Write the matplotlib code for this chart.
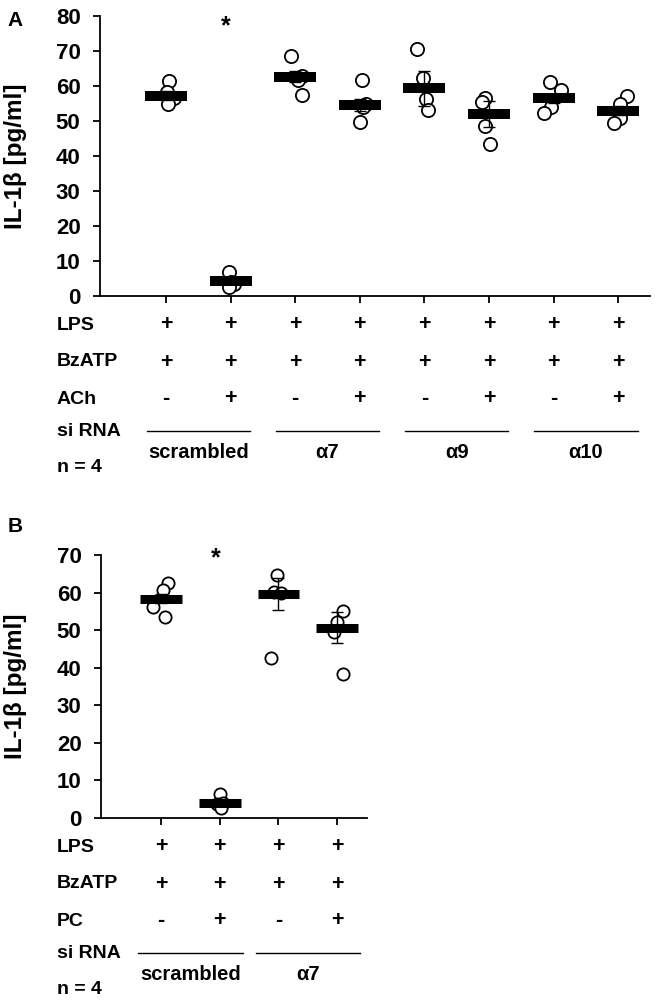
import matplotlib
matplotlib.use("Agg")
import matplotlib.pyplot as plt
from matplotlib.transforms import blended_transform_factory
import numpy as np

plt.rcParams['font.family'] = ['Liberation Sans', 'DejaVu Sans']
plt.rcParams['font.weight'] = 'bold'

W, H = 657, 1000

# ---- panel A data ----
a_means = [57.2, 4.4, 62.7, 54.6, 59.4, 52.0, 56.5, 52.9]
a_sem = [1.3, 1.0, 1.6, 1.7, 5.0, 3.7, 1.3, 1.3]
a_points = [
    [61.4, 58.3, 56.5, 55.0],
    [6.9, 4.0, 3.5, 2.5],
    [68.5, 63.0, 61.8, 57.4],
    [61.8, 55.0, 54.0, 49.8],
    [70.6, 62.4, 56.3, 53.1],
    [56.7, 55.5, 48.7, 43.4],
    [61.2, 58.9, 54.1, 52.4],
    [57.2, 55.0, 51.0, 49.3],
]
a_rows = ["LPS", "BzATP", "ACh"]
a_signs = [
    ["+"] * 8,
    ["+"] * 8,
    ["-", "+", "-", "+", "-", "+", "-", "+"],
]
a_groups = ["scrambled", "α7", "α9", "α10"]
a_star = 77.0

# ---- panel B data ----
b_means = [58.4, 4.1, 59.7, 50.7]
b_sem = [1.3, 0.9, 4.3, 4.0]
b_points = [
    [62.5, 60.7, 56.1, 53.6],
    [6.5, 4.0, 3.6, 2.6],
    [64.7, 60.2, 59.8, 42.5],
    [55.0, 52.3, 49.6, 38.3],
]
b_rows = ["LPS", "BzATP", "PC"]
b_signs = [
    ["+"] * 4,
    ["+"] * 4,
    ["-", "+", "-", "+"],
]
b_groups = ["scrambled", "α7"]
b_star = 69.2

# horizontal scatter of the dots (style only)
a_jitter = [
    [0.05, 0.02, 0.12, 0.03],
    [-0.02, 0.0, 0.05, -0.02],
    [-0.07, 0.11, 0.05, 0.10],
    [0.04, 0.09, 0.05, 0.0],
    [-0.11, -0.02, 0.02, 0.06],
    [-0.07, -0.11, -0.07, 0.02],
    [-0.05, 0.11, -0.04, -0.15],
    [0.13, 0.03, 0.03, -0.06],
]
b_jitter = [
    [0.12, 0.03, -0.14, 0.07],
    [0.0, 0.05, -0.05, 0.02],
    [-0.02, -0.08, 0.04, -0.12],
    [0.10, 0.0, -0.06, 0.10],
]


def panel(fig, box, means, sem, points, jitter, ymax, xlim, star, halfw, barlw, ms):
    left, top, right, bottom = box
    ax = fig.add_axes([left / W, 1 - bottom / H, (right - left) / W, (bottom - top) / H])
    x = np.arange(1, len(means) + 1)
    for xi, pts, jit in zip(x, points, jitter):
        ax.plot(xi + np.array(jit), pts, "o", ms=ms, mfc="white", mec="black",
                mew=1.3, zorder=2, clip_on=False)
    ax.hlines(means, x - halfw, x + halfw, colors="black", linewidth=barlw,
              capstyle="butt", zorder=3)
    ax.errorbar(x, means, yerr=sem, fmt="none", ecolor="black", elinewidth=1,
                capsize=4, capthick=1, zorder=4)
    ax.text(1.93, star, "*", ha="center", va="center", fontsize=18, fontweight="bold")
    ax.set_xlim(*xlim)
    ax.set_ylim(0, ymax)
    ax.set_yticks(np.arange(0, ymax + 1, 10))
    ax.set_xticks(x)
    ax.set_xticklabels([])
    for s in ["top", "right"]:
        ax.spines[s].set_visible(False)
    for s in ["left", "bottom"]:
        ax.spines[s].set_linewidth(1.3)
    ax.tick_params(direction="out", length=5, width=1.3, labelsize=16, pad=9)
    fig.text(16 / W, 1 - (top + bottom) / 2 / H, "IL-1β [pg/ml]", rotation=90,
             ha="center", va="center", fontsize=17.5, fontweight="bold")
    return ax


def table(fig, ax, axis_px, rows, signs, groups, halfline):
    tr = blended_transform_factory(ax.transData, fig.transFigure)
    yf = lambda off: 1 - (axis_px + off) / H
    xl = 57 / W
    offs = [29, 66, 103]
    for name, row, off in zip(rows, signs, offs):
        fig.text(xl, yf(off), name, ha="left", va="center", fontsize=14, fontweight="bold")
        for i, s in enumerate(row):
            ax.text(i + 1, yf(off), s, transform=tr, ha="center", va="center",
                    fontsize=15.5, fontweight="bold")
    fig.text(xl, yf(136), "si RNA", ha="left", va="center", fontsize=14, fontweight="bold")
    fig.text(xl, yf(172), "n = 4", ha="left", va="center", fontsize=14, fontweight="bold")
    for g, name in enumerate(groups):
        c = 2 * g + 1.5
        ax.plot([c - halfline, c + halfline], [yf(135), yf(135)], transform=tr,
                color="black", lw=1, clip_on=False)
        ax.text(c, yf(156), name, transform=tr, ha="center", va="center",
                fontsize=14.5, fontweight="bold")


fig = plt.figure(figsize=(W / 100, H / 100), dpi=100)

axA = panel(fig, (100, 16, 650, 296), a_means, a_sem, a_points, a_jitter, 80,
            (-0.02, 8.49), a_star, 0.325, 7.2, 9.5)
table(fig, axA, 296, a_rows, a_signs, a_groups, 0.8)
fig.text(15.5 / W, 1 - 21 / H, "A", ha="center", va="center", fontsize=15, fontweight="bold")

axB = panel(fig, (101, 555, 367, 818), b_means, b_sem, b_points, b_jitter, 70,
            (-0.024, 4.51), b_star, 0.356, 6.5, 8.8)
table(fig, axB, 818, b_rows, b_signs, b_groups, 0.89)
fig.text(15.5 / W, 1 - 526 / H, "B", ha="center", va="center", fontsize=15, fontweight="bold")

fig.savefig("out.png", dpi=100)
